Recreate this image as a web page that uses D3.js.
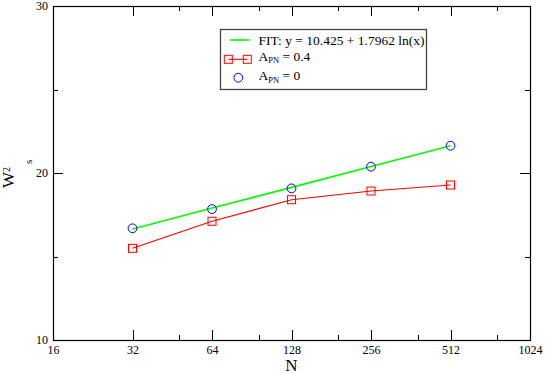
<!DOCTYPE html>
<html>
<head>
<meta charset="utf-8">
<script src="https://cdn.jsdelivr.net/npm/d3@7"></script>
<style>
	body { margin: 0; background: #fff; }
	svg { display: block; }
</style>
</head>
<body>
<div id="chart"></div>
<script>

// values
var sizesN = [32, 64, 128, 256, 512];
var fitValues = [16.65, 17.90, 19.14, 20.39, 21.63];
var apn04Values = [15.49, 17.11, 18.40, 18.92, 19.28];
var apn0Values = [16.69, 17.84, 19.08, 20.38, 21.63];

var xMajorTicks = [16, 32, 64, 128, 256, 512, 1024];
var xMinorTicks = [48, 96, 192, 384, 768];
var yMajorTicks = [10, 20, 30];
var yMinorTicks = [15, 25];

var fitLabel = 'FIT: y = 10.425 + 1.7962 ln(x)';


var serif = '"Liberation Serif", "Times New Roman", Times, "DejaVu Serif", serif';
var width = 545, height = 374;
var frame = {left: 53, right: 530, top: 6, bottom: 340};

var svg = d3.select('#chart').append('svg')
	.attr('width', width)
	.attr('height', height)
	.attr('font-family', serif);

var x = d3.scaleLog().base(2)
	.domain([16, 1024])
	.range([frame.left, frame.right]);

var y = d3.scaleLinear()
	.domain([10, 30])
	.range([frame.bottom, frame.top]);


// axes, ticks pointing inward on all four sides
function drawAxis(axis, tx, ty, withLabels) {
	var g = svg.append('g')
		.attr('transform', 'translate(' + tx + ',' + ty + ')')
		.call(axis)
		.attr('font-family', serif)
		.attr('font-size', 12);
	g.select('.domain').remove();
	g.selectAll('line').attr('stroke', '#000').attr('shape-rendering', 'crispEdges');
	if (!withLabels) {
		g.selectAll('text').remove();
	}
	return g;
}

drawAxis(d3.axisBottom(x).tickValues(xMajorTicks).tickFormat(d3.format('d')).tickSizeInner(-10).tickSizeOuter(0).tickPadding(5), 0, frame.bottom, true);
drawAxis(d3.axisBottom(x).tickValues(xMinorTicks).tickSizeInner(-5).tickSizeOuter(0), 0, frame.bottom, false);
drawAxis(d3.axisTop(x).tickValues(xMajorTicks).tickSizeInner(-10).tickSizeOuter(0), 0, frame.top, false);
drawAxis(d3.axisTop(x).tickValues(xMinorTicks).tickSizeInner(-5).tickSizeOuter(0), 0, frame.top, false);

drawAxis(d3.axisLeft(y).tickValues(yMajorTicks).tickFormat(d3.format('d')).tickSizeInner(-10).tickSizeOuter(0).tickPadding(5), frame.left, 0, true);
drawAxis(d3.axisLeft(y).tickValues(yMinorTicks).tickSizeInner(-5).tickSizeOuter(0), frame.left, 0, false);
drawAxis(d3.axisRight(y).tickValues(yMajorTicks).tickSizeInner(-10).tickSizeOuter(0), frame.right, 0, false);
drawAxis(d3.axisRight(y).tickValues(yMinorTicks).tickSizeInner(-5).tickSizeOuter(0), frame.right, 0, false);

svg.append('rect')
	.attr('x', frame.left + 0.5)
	.attr('y', frame.top + 0.5)
	.attr('width', frame.right - frame.left)
	.attr('height', frame.bottom - frame.top)
	.attr('fill', 'none')
	.attr('stroke', '#000')
	.attr('stroke-width', 1.2);


// axis titles
svg.append('text')
	.attr('x', (frame.left + frame.right) / 2)
	.attr('y', 371)
	.attr('text-anchor', 'middle')
	.attr('font-size', 17)
	.text('N');

var yTitle = svg.append('text')
	.attr('transform', 'translate(14,188) rotate(-90)')
	.attr('font-size', 17);
yTitle.append('tspan').text('W');
yTitle.append('tspan').attr('dy', -4.5).attr('font-size', 10).text('2');
yTitle.append('tspan').attr('dx', 3).attr('dy', 22).attr('font-size', 11).text('s');


// series
var points = sizesN.map(function(n, i) {
	return {n: n, fit: fitValues[i], apn04: apn04Values[i], apn0: apn0Values[i]};
});

var fitLine = d3.line()
	.x(function(d) { return x(d.n); })
	.y(function(d) { return y(d.fit); });

var apnLine = d3.line()
	.x(function(d) { return x(d.n); })
	.y(function(d) { return y(d.apn04); });

svg.append('path')
	.datum(points)
	.attr('d', fitLine)
	.attr('fill', 'none')
	.attr('stroke', '#00ff00')
	.attr('stroke-width', 1.6);

svg.append('path')
	.datum(points)
	.attr('d', apnLine)
	.attr('fill', 'none')
	.attr('stroke', '#ff0000')
	.attr('stroke-width', 1.1);

var sq = 8;
svg.selectAll('rect.apn04')
	.data(points)
	.enter().append('rect')
	.attr('class', 'apn04')
	.attr('x', function(d) { return x(d.n) - sq / 2; })
	.attr('y', function(d) { return y(d.apn04) - sq / 2; })
	.attr('width', sq)
	.attr('height', sq)
	.attr('fill', 'none')
	.attr('stroke', '#ff0000')
	.attr('stroke-width', 1);

svg.selectAll('circle.apn0')
	.data(points)
	.enter().append('circle')
	.attr('class', 'apn0')
	.attr('cx', function(d) { return x(d.n); })
	.attr('cy', function(d) { return y(d.apn0); })
	.attr('r', 4.4)
	.attr('fill', 'none')
	.attr('stroke', '#0000ff')
	.attr('stroke-width', 1);


// legend box
var legend = svg.append('g');

legend.append('rect')
	.attr('x', 220.5)
	.attr('y', 29.5)
	.attr('width', 206)
	.attr('height', 60)
	.attr('fill', '#fff')
	.attr('stroke', '#444')
	.attr('stroke-width', 1.3);

legend.append('line')
	.attr('x1', 230).attr('x2', 249)
	.attr('y1', 40).attr('y2', 40)
	.attr('stroke', '#00ff00')
	.attr('stroke-width', 1.6);

legend.append('text')
	.attr('x', 258.5)
	.attr('y', 44.5)
	.attr('font-size', 13.5)
	.text(fitLabel);

legend.append('line')
	.attr('x1', 228.3).attr('x2', 247.3)
	.attr('y1', 59.3).attr('y2', 59.3)
	.attr('stroke', '#ff0000')
	.attr('stroke-width', 1.1);

legend.selectAll('rect.key')
	.data([228.3, 247.3])
	.enter().append('rect')
	.attr('class', 'key')
	.attr('x', function(d) { return d - sq / 2; })
	.attr('y', 59.3 - sq / 2)
	.attr('width', sq)
	.attr('height', sq)
	.attr('fill', 'none')
	.attr('stroke', '#ff0000')
	.attr('stroke-width', 1);

legend.append('circle')
	.attr('cx', 238.3)
	.attr('cy', 77.7)
	.attr('r', 4.4)
	.attr('fill', 'none')
	.attr('stroke', '#0000ff')
	.attr('stroke-width', 1);

function apnLabel(yPos, value) {
	var t = legend.append('text')
		.attr('x', 258.5)
		.attr('y', yPos)
		.attr('font-size', 13.5);
	t.append('tspan').text('A');
	t.append('tspan').attr('dy', 2.5).attr('font-size', 8.5).text('PN');
	t.append('tspan').attr('dy', -2.5).text(' = ' + value);
}

apnLabel(60.5, '0.4');
apnLabel(80, '0');

</script>
</body>
</html>
